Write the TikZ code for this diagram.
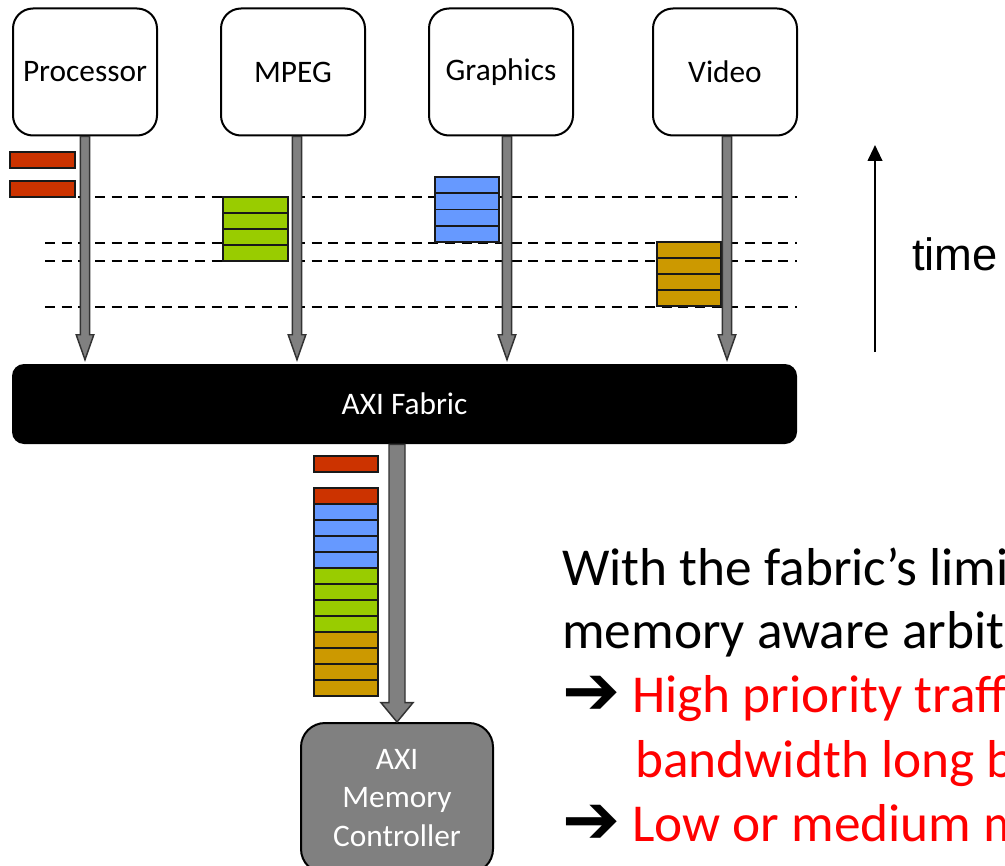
\documentclass[tikz,border=0pt]{standalone}
\usepackage{fontspec}
\setmainfont{Carlito}
\newfontfamily\arialfont{Liberation Sans}
\newfontfamily\symfont{DejaVu Sans}
\usetikzlibrary{arrows.meta,calc}
\definecolor{pktred}{HTML}{CC3300}
\definecolor{pktgreen}{HTML}{99CC00}
\definecolor{pktblue}{HTML}{6699FF}
\definecolor{pktgold}{HTML}{CC9900}
\definecolor{busgray}{HTML}{808080}
\definecolor{textred}{HTML}{FF0000}

% fat block arrow: start, tip, half shaft width, half head width, head length
\newcommand\fatarrow[5]{%
  \filldraw[flow] let \p1=(#1), \p2=(#2) in
    (\x1-#3,\y1) -- (\x1-#3,\y2+#5) -- (\x1-#4,\y2+#5) -- (\x1,\y2)
    -- (\x1+#4,\y2+#5) -- (\x1+#3,\y2+#5) -- (\x1+#3,\y1) -- cycle;}

\begin{document}
\begin{tikzpicture}[x=0.75pt,y=-0.75pt,
  unit/.style={draw,rounded corners=15pt,line width=1.5pt,minimum width=108pt,
    minimum height=95.25pt,inner sep=0pt,font=\fontsize{23.5}{28}\selectfont},
  flow/.style={fill=busgray,draw=black!80,line width=1.1pt,line join=miter},
  packet/.style={draw=black!90,line width=1.4pt},
  timeline/.style={dash pattern=on 7.5pt off 5pt,line width=1.9pt},
  body/.style={anchor=base west,inner sep=0pt,font=\fontsize{40}{48}\selectfont},
  hot/.style={body,text=textred},
  pointer/.style={anchor=base west,inner sep=0pt,font=\symfont\bfseries\fontsize{52}{56}\selectfont}]

\useasboundingbox (0,0) rectangle (1005,866);
\fill[white] (0,0) rectangle (1005,866);

% masters
\node[unit] (proc)  at (85,72)  {Processor};
\node[unit] (mpeg)  at (293,72) {MPEG};
\node[unit] (gfx)   at (501,72) {Graphics};
\node[unit] (video) at (725,72) {Video};

% interconnect
\node[fill=black,rounded corners=9pt,minimum width=588.75pt,minimum height=60pt,
  inner sep=0pt,text=white,font=\fontsize{23.5}{28}\selectfont] (fab) at (404.5,404) {AXI Fabric};

% time markers
\foreach \y in {197,243,261,307} \draw[timeline] (45,\y) -- (797,\y);

% bursts issued by each master
\foreach \y in {152,181} \draw[packet,fill=pktred] (10,\y) rectangle (75,\y+16);
\foreach \i in {0,...,3} {
  \draw[packet,fill=pktgreen] (223,197+16*\i) rectangle (288,213+16*\i);
  \draw[packet,fill=pktblue] (435,177+16.25*\i) rectangle (499,193.25+16.25*\i);
  \draw[packet,fill=pktgold] (657,242+16*\i) rectangle (721,258+16*\i);
}

% master to fabric paths
\coordinate (procTop)  at (proc.south);
\coordinate (mpegTop)  at ([xshift=3pt]mpeg.south);
\coordinate (gfxTop)   at ([xshift=4.5pt]gfx.south);
\coordinate (videoTop) at ([xshift=1.5pt]video.south);
\coordinate (procTip)  at ([yshift=3pt]procTop |- fab.north);
\coordinate (mpegTip)  at ([yshift=3pt]mpegTop |- fab.north);
\coordinate (gfxTip)   at ([yshift=3pt]gfxTop |- fab.north);
\coordinate (videoTip) at ([yshift=3pt]videoTop |- fab.north);
\fatarrow{procTop}{procTip}{3.4pt}{6.6pt}{18.75pt}
\fatarrow{mpegTop}{mpegTip}{3.4pt}{6.6pt}{18.75pt}
\fatarrow{gfxTop}{gfxTip}{3.4pt}{6.6pt}{18.75pt}
\fatarrow{videoTop}{videoTip}{3.4pt}{6.6pt}{18.75pt}

% interleaved stream towards memory
\draw[packet,fill=pktred] (314,456) rectangle (378,472);
\draw[packet,fill=pktred] (314,488) rectangle (378,504);
\foreach \i in {0,...,3} {
  \draw[packet,fill=pktblue]  (314,504+16*\i) rectangle (378,520+16*\i);
  \draw[packet,fill=pktgreen] (314,568+16*\i) rectangle (378,584+16*\i);
  \draw[packet,fill=pktgold]  (314,632+16*\i) rectangle (378,648+16*\i);
}

\begin{scope}
  \clip (0,0) rectangle (1005,866);
  \node[draw,fill=busgray,rounded corners=18pt,line width=1.5pt,minimum width=144pt,
    minimum height=112.5pt,inner sep=0pt,text=white,align=center,
    font=\fontsize{23.5}{28.9}\selectfont] (ctrl) at (397,798) {AXI\\Memory\\Controller};

  \node[body] (l1) at (562,585) {With the fabric’s limi};
  \node[body] (l2) at (562,648) {memory aware arbit};
  \node[pointer] (p1) at (562,714) {➔};
  \node[hot] (l3) at (632,712) {High priority traff};
  \node[hot] (l4) at (635,777) {bandwidth long b};
  \node[pointer] (p2) at (562,843) {➔};
  \node[hot] (l5) at (632,841) {Low or medium m};
\end{scope}

\coordinate (busTop) at (ctrl.north |- fab.south);
\fatarrow{busTop}{ctrl.north}{6pt}{12pt}{14.5pt}

% time axis
\coordinate (tStart) at (875,352);
\coordinate (tEnd) at (875,145);
\draw[line width=1.5pt,-{Triangle[width=11pt,length=12pt]}] (tStart) -- (tEnd);
\node[anchor=base west,inner sep=0pt,font=\arialfont\fontsize{34}{40}\selectfont] (time) at (912,270) {time};
\end{tikzpicture}
\end{document}
